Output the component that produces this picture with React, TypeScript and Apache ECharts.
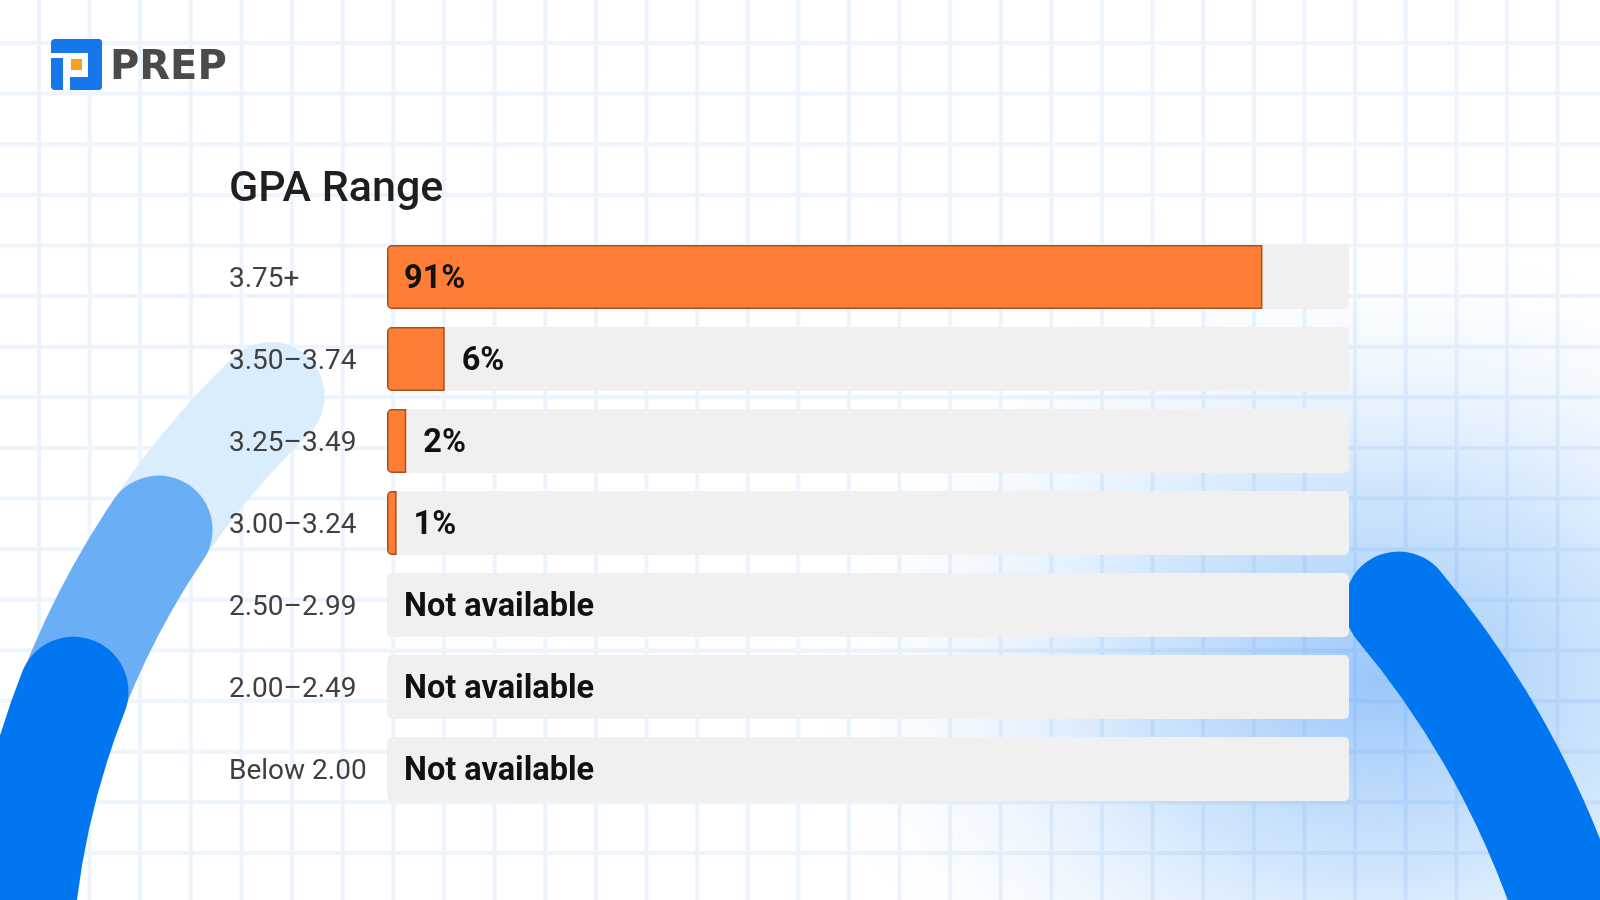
import React, { useEffect, useRef } from "react";
import * as echarts from "echarts";

const categories = ["3.75+", "3.50–3.74", "3.25–3.49", "3.00–3.24", "2.50–2.99", "2.00–2.49", "Below 2.00"];
const percentages: (number | null)[] = [91, 6, 2, 1, null, null, null];
const chartTitle = "GPA Range";
const missingLabel = "Not available";
const brandName = "PREP";

// background grid path (decoration)
function buildGridPath(): string {
  const parts: string[] = [];
  const step = 50.62;
  for (let x = 39; x < 1610; x += step) {
    parts.push(`M${(x - 2).toFixed(1)} 0 L${(x + 2).toFixed(1)} 0 L${(x + 2).toFixed(1)} 900 L${(x - 2).toFixed(1)} 900 Z`);
  }
  for (let y = 43; y < 910; y += step) {
    parts.push(`M0 ${(y - 2).toFixed(1)} L1600 ${(y - 2).toFixed(1)} L1600 ${(y + 2).toFixed(1)} L0 ${(y + 2).toFixed(1)} Z`);
  }
  return parts.join(" ");
}

let registered = false;
function registerShapes() {
  if (registered) return;
  registered = true;
  echarts.graphic.registerShape("gridbg", echarts.graphic.extendPath(buildGridPath(), {}) as any);
}

const deg = (d: number) => (d * Math.PI) / 180;

export default function App() {
  const ref = useRef<HTMLDivElement>(null);
  useEffect(() => {
    if (!ref.current) return;
    registerShapes();
    const chart = echarts.init(ref.current, undefined, { renderer: "svg" });

    const data = percentages.map((v) =>
      v == null
        ? { value: 0, label: { formatter: missingLabel }, itemStyle: { borderWidth: 0, color: "rgba(0,0,0,0)" } }
        : v >= 50
        ? { value: v, label: { position: "insideLeft" } }
        : { value: v }
    );

    const blue = "#1677eb";
    const graphic: any[] = [
      { type: "rect", z: 0, shape: { x: 0, y: 0, width: 1600, height: 900 }, style: { fill: "#ffffff" } },
      {
        type: "circle",
        z: 0,
        x: 1380,
        y: 680,
        scaleX: 1.3,
        scaleY: 1,
        shape: { cx: 0, cy: 0, r: 430 },
        style: {
          fill: {
            type: "radial",
            x: 0.5,
            y: 0.5,
            r: 0.5,
            colorStops: [
              { offset: 0, color: "rgba(120,180,248,0.75)" },
              { offset: 0.45, color: "rgba(150,198,250,0.45)" },
              { offset: 1, color: "rgba(220,236,255,0)" },
            ],
          },
        },
      },
      { type: "gridbg", z: 0, style: { fill: "rgba(30,120,235,0.08)" } },
      {
        type: "arc",
        z: 0,
        shape: { cx: 850, cy: 996, r: 834, startAngle: deg(203), endAngle: deg(226), clockwise: true },
        style: { stroke: "#daedfc", lineWidth: 108, lineCap: "round", fill: null },
      },
      {
        type: "arc",
        z: 0,
        shape: { cx: 850, cy: 996, r: 834, startAngle: deg(192), endAngle: deg(214), clockwise: true },
        style: { stroke: "#6aaef5", lineWidth: 108, lineCap: "round", fill: null },
      },
      {
        type: "arc",
        z: 0,
        shape: { cx: 850, cy: 996, r: 834, startAngle: deg(170), endAngle: deg(201.4), clockwise: true },
        style: { stroke: "#0077f0", lineWidth: 110, lineCap: "round", fill: null },
      },
      {
        type: "arc",
        z: 0,
        shape: { cx: 690, cy: 1200, r: 925, startAngle: deg(-40), endAngle: deg(-8), clockwise: true },
        style: { stroke: "#0077f0", lineWidth: 108, lineCap: "round", fill: null },
      },
      // logo
      {
        type: "group",
        x: 51,
        y: 39,
        z: 10,
        children: [
          { type: "rect", shape: { x: 0, y: 0, width: 51, height: 14, r: [4, 4, 0, 0] }, style: { fill: blue } },
          { type: "rect", shape: { x: 37, y: 0, width: 14, height: 51, r: [0, 4, 4, 0] }, style: { fill: blue } },
          { type: "rect", shape: { x: 19, y: 38, width: 32, height: 13, r: [0, 0, 4, 0] }, style: { fill: blue } },
          { type: "rect", shape: { x: 0, y: 19, width: 12, height: 32, r: [0, 0, 0, 4] }, style: { fill: blue } },
          { type: "rect", shape: { x: 20, y: 20, width: 11, height: 11 }, style: { fill: "#f6a21e" } },
        ],
      },
      {
        type: "text",
        z: 10,
        x: 110,
        y: 65,
        style: {
          text: brandName,
          fontFamily: "DejaVu Sans",
          fontWeight: "bold",
          fontSize: 40,
          fill: "#4a4a4a",
          align: "left",
          verticalAlign: "middle",
        },
      },
      {
        type: "text",
        z: 10,
        x: 229,
        y: 186,
        style: {
          text: chartTitle,
          fontFamily: "Roboto",
          fontWeight: 500,
          fontSize: 43,
          fill: "#1f1f1f",
          align: "left",
          verticalAlign: "middle",
        },
      },
    ];

    chart.setOption({
      animation: false,
      grid: { left: 387, top: 236, width: 962, height: 574, containLabel: false },
      xAxis: { type: "value", min: 0, max: 100, show: false },
      yAxis: {
        type: "category",
        data: categories,
        inverse: true,
        axisLine: { show: false },
        axisTick: { show: false },
        splitLine: { show: false },
        axisLabel: {
          align: "left",
          margin: 158,
          fontSize: 28,
          color: "#404040",
          fontFamily: "Roboto",
        },
      },
      series: [
        {
          type: "bar",
          data,
          barWidth: 64,
          z: 3,
          showBackground: true,
          backgroundStyle: { color: "#f0f0f0", borderRadius: 5 },
          itemStyle: { color: "#fe7e35", borderColor: "#a8501c", borderWidth: 1.5, borderRadius: [4, 0, 0, 4] },
          label: {
            show: true,
            position: "right",
            distance: 17,
            formatter: "{c}%",
            fontSize: 32.5,
            fontWeight: "bold",
            color: "#111111",
            fontFamily: "Roboto",
          },
        },
      ],
      graphic,
    });
    return () => chart.dispose();
  }, []);
  return <div ref={ref} style={{ position: "fixed", left: 0, top: 0, width: 1600, height: 900 }} />;
}
